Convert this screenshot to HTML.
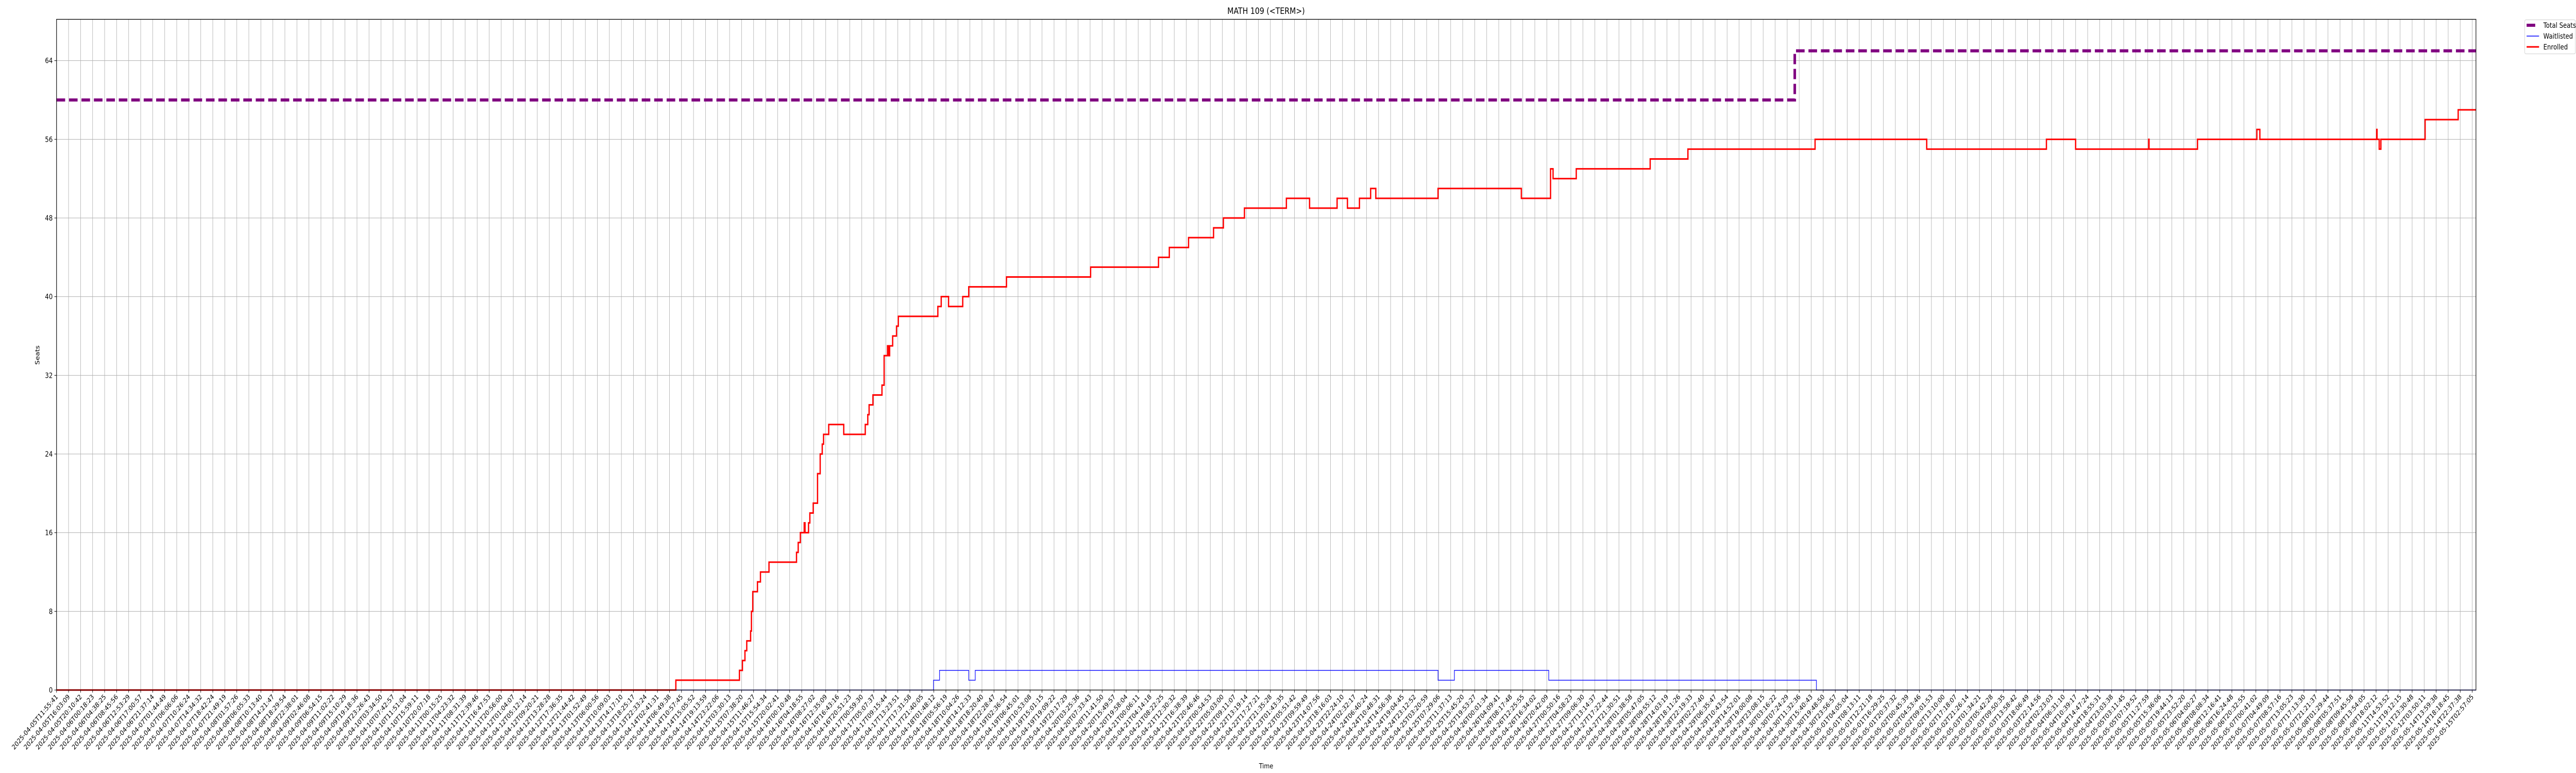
<!DOCTYPE html>
<html>
<head>
<meta charset="utf-8">
<style>
  html,body{margin:0;padding:0;background:#fff;width:100%;height:100%;overflow:hidden;}
  svg{display:block;width:100vw;height:100vh;font-family:"DejaVu Sans","Liberation Sans",sans-serif;}
</style>
</head>
<body>
<svg id="chart" viewBox="0 0 6000 1500" preserveAspectRatio="none" xmlns="http://www.w3.org/2000/svg">
  <rect x="0" y="0" width="6000" height="1500" fill="#fff"/>
  <g id="grid"></g>
  <g id="series"></g>
  <g id="axes"></g>
  <text x="2949" y="27" font-size="17" text-anchor="middle" fill="#000">MATH 109 (&lt;TERM&gt;)</text>
  <text x="2949" y="1491" font-size="13.5" text-anchor="middle" fill="#000">Time</text>
  <text x="0" y="0" font-size="13.5" text-anchor="middle" fill="#000" transform="translate(92,689) rotate(-90)">Seats</text>
  <g id="legend">
    <rect x="5880.5" y="38.5" width="118" height="66" rx="3" fill="#fff" stroke="#d0d0d0" stroke-width="1"/>
    <g>
      <line x1="5885" y1="49" x2="5905" y2="49" stroke="#800080" stroke-width="6"/>
      <text x="5924" y="54" font-size="14" fill="#000">Total Seats</text>
    </g>
    <g>
      <line x1="5885" y1="70" x2="5914" y2="70" stroke="#0000ff" stroke-width="1.5"/>
      <text x="5924" y="75" font-size="14" fill="#000">Waitlisted</text>
    </g>
    <g>
      <line x1="5885" y1="91" x2="5914" y2="91" stroke="#ff0000" stroke-width="3"/>
      <text x="5924" y="96" font-size="14" fill="#000">Enrolled</text>
    </g>
  </g>
</svg>
<script>
// ---- data (x in sample-index units, step-post) ----
var enrolledX = [0,51.53,56.82,57.07,57.28,57.43,57.75,57.82,57.93,58.32,58.57,59.28,61.57,61.71,61.89,62.21,62.28,62.57,62.68,62.96,63.32,63.54,63.71,63.82,64.25,65.50,67.29,67.50,67.61,67.93,68.68,68.86,69.14,69.25,69.32,69.57,69.89,70.04,73.33,73.61,74.22,75.40,75.90,79.04,86.04,91.69,92.59,94.19,96.27,97.09,98.84,102.33,104.26,106.55,107.41,108.41,109.34,109.77,114.95,121.88,124.31,124.52,126.45,132.60,135.74,146.32,155.61,165.57,168.00,174.08,174.11,178.14,183.08,183.33,193.05,193.08,193.26,193.40,197.08,199.83];
var enrolledY = [0,1,2,3,4,5,6,8,10,11,12,13,14,15,16,17,16,17,18,19,22,24,25,26,27,26,27,28,29,30,31,34,35,34,35,36,37,38,39,40,39,40,41,42,43,44,45,46,47,48,49,50,49,50,49,50,51,50,51,50,53,52,53,54,55,56,55,56,55,56,55,56,57,56,57,56,55,56,58,59];
var waitX = [0,72.97,73.47,75.90,76.44,114.95,116.31,124.16,146.43];
var waitY = [0,1,2,1,2,1,2,1,0];
var totalX = [0,144.63];
var totalY = [60,65];
var yTicks = [0,8,16,24,32,40,48,56,64];
var xMax = 201.32;
var yMax = 68.2;
var tickCount = 202;
var startLabel = "2025-04-05T11:55:41";
var tickLabels = [];
(function(){
  var t = Date.UTC(2025,3,5,11,55,41);
  for (var i=0;i<tickCount;i++){
    var d = new Date(t + i*(4*3600+8*60+7)*1000);
    tickLabels.push(d.toISOString().slice(0,19));
  }
  tickLabels[0] = startLabel;
  tickLabels[1] = "2025-04-05T16:03:09";
  tickLabels[2] = "2025-04-05T20:10:42";
  tickLabels[3] = "2025-04-06T00:18:23";
  tickLabels[4] = "2025-04-06T04:38:25";
  tickLabels[5] = "2025-04-06T08:45:56";
  tickLabels[6] = "2025-04-06T12:53:29";
  tickLabels[7] = "2025-04-06T17:00:57";
  tickLabels[8] = "2025-04-06T21:37:14";
  tickLabels[9] = "2025-04-07T01:44:49";
  tickLabels[10] = "2025-04-07T06:06:06";
  tickLabels[11] = "2025-04-07T10:26:24";
  tickLabels[12] = "2025-04-07T14:34:32";
  tickLabels[13] = "2025-04-07T18:42:24";
  tickLabels[tickCount-8] = "2025-05-11T14:53:52";
  tickLabels[tickCount-7] = "2025-05-11T19:12:15";
  tickLabels[tickCount-6] = "2025-05-11T23:30:48";
  tickLabels[tickCount-5] = "2025-05-12T03:50:11";
  tickLabels[tickCount-4] = "2025-05-14T13:59:38";
  tickLabels[tickCount-3] = "2025-05-14T18:18:45";
  tickLabels[tickCount-2] = "2025-05-14T22:37:38";
  tickLabels[tickCount-1] = "2025-05-15T02:57:05";
})();

// ---- layout ----
var L = 131.7, R = 5767, T = 37.5, B = 1339;
var tickStep = (5758.3 - L) / (tickCount - 1);
function sx(v){ return L + v * tickStep; }
function sy(v){ return B - v * (B - T) / yMax; }
var NS = "http://www.w3.org/2000/svg";
function mk(tag, attrs, parent){
  var e = document.createElementNS(NS, tag);
  for (var k in attrs) e.setAttribute(k, attrs[k]);
  parent.appendChild(e);
  return e;
}
var grid = document.getElementById('grid');
var axes = document.getElementById('axes');
var series = document.getElementById('series');

for (var i=0;i<tickCount;i++){
  var x = sx(i);
  var gl = mk('line',{x1:x,y1:T,x2:x,y2:B,stroke:'#b0b0b0','stroke-width':1},grid);
  
  
  var tk = mk('line',{x1:x,y1:B,x2:x,y2:B+5,stroke:'#000','stroke-width':1},axes);
  
  
  var tx = mk('text',{x:0,y:0,'font-size':13.3,'text-anchor':'end',fill:'#000',transform:'translate('+(x+4)+','+(B+14)+') rotate(-45)'},axes);
  tx.textContent = tickLabels[i];
  
  
}
yTicks.forEach(function(v){
  var y = sy(v);
  var gl = mk('line',{x1:L,y1:y,x2:R,y2:y,stroke:'#b0b0b0','stroke-width':1},grid);
  
  
  var tk = mk('line',{x1:L-5,y1:y,x2:L,y2:y,stroke:'#000','stroke-width':1},axes);
  
  
  var tx = mk('text',{x:L-9,y:y+5,'font-size':14,'text-anchor':'end',fill:'#000'},axes);
  tx.textContent = String(v);
  
  
});

function stepPath(xs, ys){
  var d = 'M' + sx(xs[0]) + ',' + sy(ys[0]);
  for (var i=1;i<xs.length;i++){
    d += ' H' + sx(xs[i]) + ' V' + sy(ys[i]);
  }
  d += ' H' + sx(xMax);
  return d;
}
var pTotal = mk('path',{d:stepPath(totalX,totalY),fill:'none',stroke:'#800080','stroke-width':6,'stroke-dasharray':'20 9'},series);


var pWait = mk('path',{d:stepPath(waitX,waitY),fill:'none',stroke:'#0000ff','stroke-width':1.6,'stroke-opacity':0.85},series);


var pEnr = mk('path',{d:stepPath(enrolledX,enrolledY),fill:'none',stroke:'#ff0000','stroke-width':3},series);



var fr = mk('rect',{x:L,y:T,width:R-L,height:B-T,fill:'none',stroke:'#000','stroke-width':1.3},axes);


</script>
</body>
</html>
